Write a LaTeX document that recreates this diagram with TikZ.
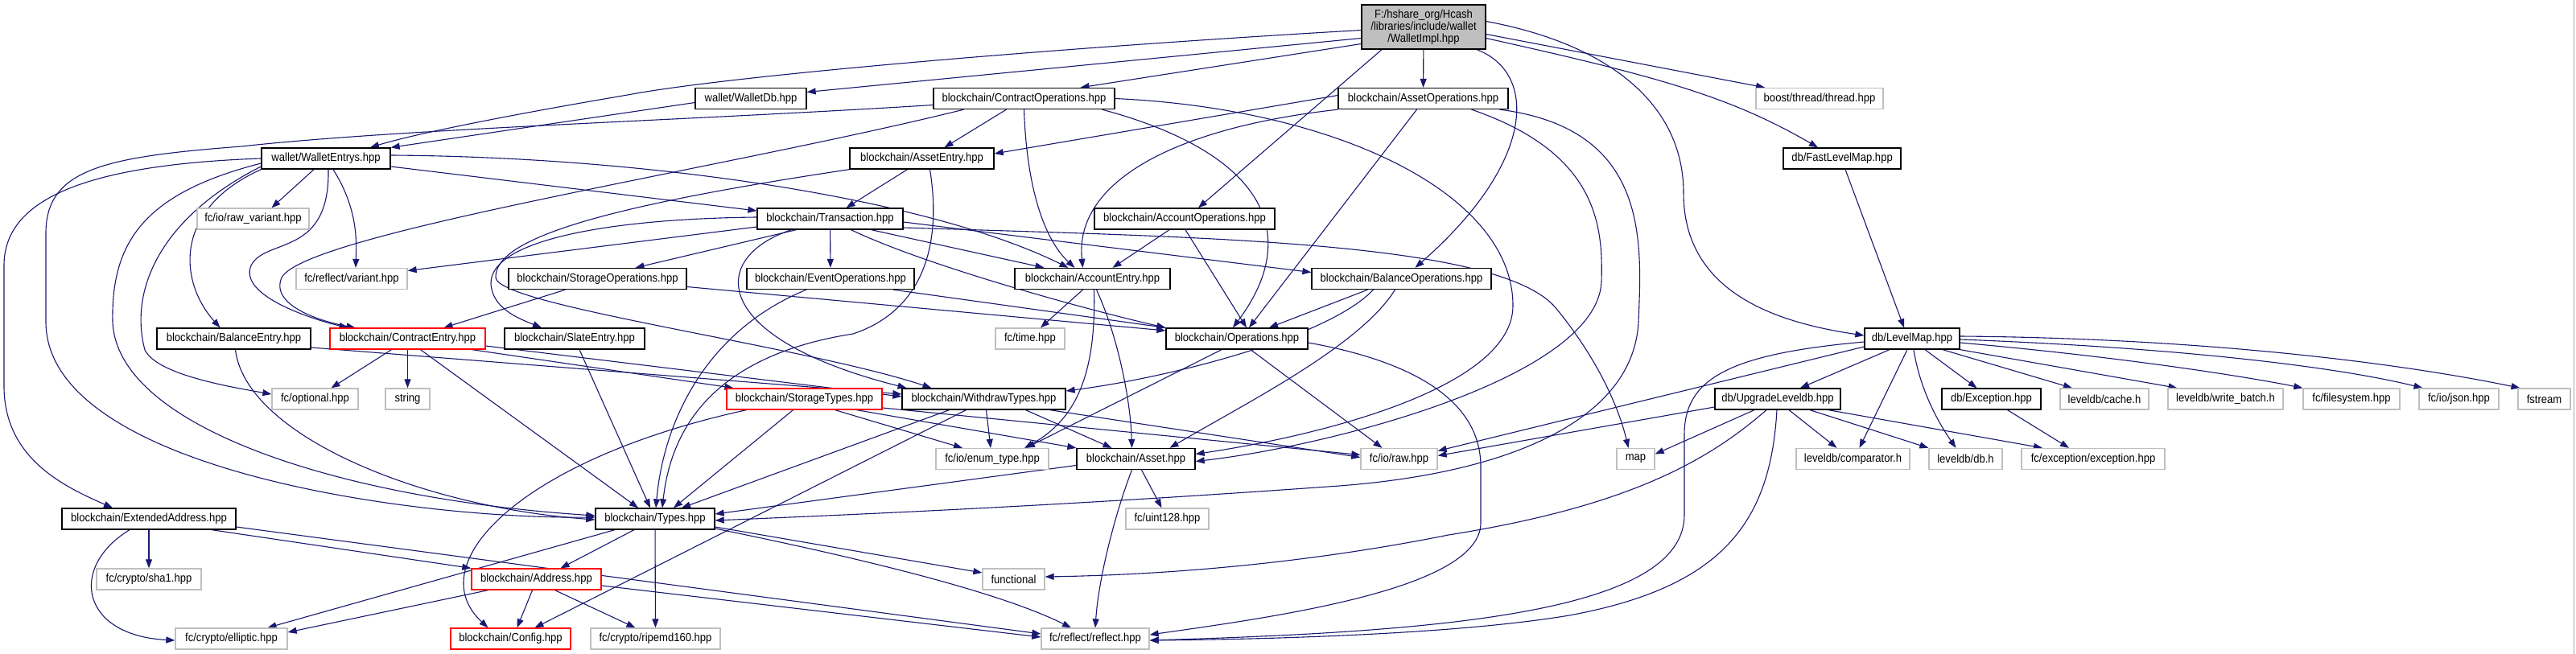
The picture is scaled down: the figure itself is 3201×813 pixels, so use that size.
\documentclass[tikz,border=0pt]{standalone}
\usepackage{fontspec}
\setmainfont{Liberation Sans}[FakeStretch=0.9]
\usetikzlibrary{arrows.meta}
\definecolor{edgec}{RGB}{25,25,112}
\definecolor{grayb}{RGB}{191,191,191}
\pgfdeclarelayer{bglayer}
\pgfdeclarelayer{edgelayer}
\pgfsetlayers{bglayer,edgelayer,main}
\tikzset{
  nb/.style={draw=black, line width=1.3pt, fill=white, minimum height=26pt, inner sep=0pt, align=center},
  gb/.style={nb, draw=grayb},
  rb/.style={nb, draw=red},
  ed/.style={draw=edgec, line width=1.1pt, -{Triangle[length=11pt,width=8pt]}}
}
\begin{document}
\begin{tikzpicture}[x=1pt,y=-1pt,font=\fontsize{14.5pt}{15pt}\selectfont]
\useasboundingbox (0,0) rectangle (3201,813);
\begin{pgfonlayer}{bglayer}
\fill[white] (0,0) rectangle (3201,813);
\draw[gray!70, line width=1pt] (3198.5,0) -- (3198.5,813);
\end{pgfonlayer}
% row 0
\node[nb, fill=grayb, minimum width=154pt, minimum height=55pt] (WI) at (1769,33.5) {F:/hshare\_org/Hcash\\/libraries/include/wallet\\/WalletImpl.hpp};
% row 1
\node[nb, minimum width=138pt] (WDb) at (933,122.5) {wallet/WalletDb.hpp};
\node[nb, minimum width=225pt] (COps) at (1272.5,122.5) {blockchain/ContractOperations.hpp};
\node[nb, minimum width=211pt] (AOps) at (1768.5,122.5) {blockchain/AssetOperations.hpp};
\node[gb, minimum width=158pt] (boost) at (2261,122.5) {boost/thread/thread.hpp};
% row 2
\node[nb, minimum width=160pt] (WE) at (405,197) {wallet/WalletEntrys.hpp};
\node[nb, minimum width=179pt] (AE) at (1145.5,197) {blockchain/AssetEntry.hpp};
\node[nb, minimum width=146pt] (FLM) at (2289,197) {db/FastLevelMap.hpp};
% row 3
\node[gb, minimum width=139pt] (rawvar) at (314.5,272) {fc/io/raw\_variant.hpp};
\node[nb, minimum width=181pt] (TX) at (1031.5,272) {blockchain/Transaction.hpp};
\node[nb, minimum width=224pt] (AccOps) at (1472,272) {blockchain/AccountOperations.hpp};
% row 4
\node[gb, minimum width=138pt] (rvar) at (437,346.5) {fc/reflect/variant.hpp};
\node[nb, minimum width=221pt] (SOps) at (742.5,346.5) {blockchain/StorageOperations.hpp};
\node[nb, minimum width=208pt] (EOps) at (1032,346.5) {blockchain/EventOperations.hpp};
\node[nb, minimum width=193pt] (AccE) at (1357.5,346.5) {blockchain/AccountEntry.hpp};
\node[nb, minimum width=223pt] (BOps) at (1741.5,346.5) {blockchain/BalanceOperations.hpp};
% row 5
\node[nb, minimum width=191pt] (BE) at (290.5,421) {blockchain/BalanceEntry.hpp};
\node[rb, minimum width=193pt] (CE) at (506.5,421) {blockchain/ContractEntry.hpp};
\node[nb, minimum width=174pt] (SE) at (714,421) {blockchain/SlateEntry.hpp};
\node[gb, minimum width=86pt] (time) at (1280,421) {fc/time.hpp};
\node[nb, minimum width=176pt] (Ops) at (1537,421) {blockchain/Operations.hpp};
\node[nb, minimum width=118pt] (LM) at (2376,421) {db/LevelMap.hpp};
% row 6
\node[gb, minimum width=107pt] (opt) at (391.5,496) {fc/optional.hpp};
\node[gb, minimum width=55pt] (string) at (506.5,496) {string};
\node[rb, minimum width=193pt] (ST) at (999.5,496) {blockchain/StorageTypes.hpp};
\node[nb, minimum width=203pt] (WT) at (1222.5,496) {blockchain/WithdrawTypes.hpp};
\node[nb, minimum width=156pt] (ULDB) at (2209,496) {db/UpgradeLeveldb.hpp};
\node[nb, minimum width=123pt] (Exc) at (2474.5,496) {db/Exception.hpp};
\node[gb, minimum width=110pt] (cache) at (2615,496) {leveldb/cache.h};
\node[gb, minimum width=143pt] (wb) at (2765.5,496) {leveldb/write\_batch.h};
\node[gb, minimum width=120pt] (fs) at (2922,496) {fc/filesystem.hpp};
\node[gb, minimum width=99pt] (json) at (3055.5,496) {fc/io/json.hpp};
\node[gb, minimum width=65pt] (fstream) at (3161.5,496) {fstream};
% row 7
\node[gb, minimum width=140pt] (enum) at (1233,570.5) {fc/io/enum\_type.hpp};
\node[nb, minimum width=147pt] (Asset) at (1411.5,570.5) {blockchain/Asset.hpp};
\node[gb, minimum width=95pt] (raw) at (1738.5,570.5) {fc/io/raw.hpp};
\node[gb, minimum width=47pt] (map) at (2032.5,570.5) {map};
\node[gb, minimum width=141pt] (comp) at (2302.5,570.5) {leveldb/comparator.h};
\node[gb, minimum width=91pt] (dbh) at (2442.5,570.5) {leveldb/db.h};
\node[gb, minimum width=178pt] (exch) at (2601,570.5) {fc/exception/exception.hpp};
% row 8
\node[nb, minimum width=216pt] (EA) at (185,645) {blockchain/ExtendedAddress.hpp};
\node[nb, minimum width=148pt] (Types) at (814,645) {blockchain/Types.hpp};
\node[gb, minimum width=103pt] (uint128) at (1450.5,645) {fc/uint128.hpp};
% row 9
\node[gb, minimum width=130pt] (sha1) at (185,720) {fc/crypto/sha1.hpp};
\node[rb, minimum width=161pt] (Addr) at (666.5,720) {blockchain/Address.hpp};
\node[gb, minimum width=77pt] (func) at (1259.5,720) {functional};
% row 10
\node[gb, minimum width=139pt] (ell) at (287.5,794) {fc/crypto/elliptic.hpp};
\node[rb, minimum width=149pt] (Config) at (634.5,794) {blockchain/Config.hpp};
\node[gb, minimum width=161pt] (ripemd) at (814.5,794) {fc/crypto/ripemd160.hpp};
\node[gb, minimum width=134pt] (reflect) at (1361,794) {fc/reflect/reflect.hpp};

\begin{pgfonlayer}{edgelayer}
% WalletImpl
\draw[ed] ([yshift=-4pt]WI.west) .. controls (1300,60) and (900,95) .. (780,118) .. controls (650,140) and (520,165) .. ([xshift=55pt]WE.north);
\draw[ed] ([yshift=-14pt]WI.west) -- ([yshift=8pt]WDb.east);
\draw[ed] ([yshift=-21pt]WI.west) -- ([xshift=70pt]COps.north);
\draw[ed] (WI) -- (AOps);
\draw[ed] ([xshift=-52pt]WI.south) -- ([xshift=17pt]AccOps.north);
\draw[ed] ([xshift=66pt]WI.south) .. controls (1910,90) and (1910,200) .. ([xshift=17pt]BOps.north);
\draw[ed] ([yshift=-9pt]WI.east) -- ([xshift=-68pt]boost.north);
\draw[ed] ([yshift=-14pt]WI.east) .. controls (2060,95) and (2150,120) .. ([xshift=-30pt]FLM.north);
\draw[ed] ([yshift=7pt]WI.east) .. controls (2000,55) and (2092,130) .. (2092,240) .. controls (2092,360) and (2200,400) .. ([yshift=4pt]LM.west);
% WalletDb
\draw[ed] ([yshift=-5pt]WDb.west) -- (WE.north east);
% ContractOperations
\draw[ed] ([yshift=-8pt]COps.west) .. controls (850,150) and (500,160) .. (300,182) .. controls (130,195) and (57,210) .. (57,290) -- (57,400) .. controls (57,580) and (500,645) .. ([yshift=2pt]Types.west);
\draw[ed] ([xshift=-75pt]COps.south) .. controls (900,210) and (380,290) .. (350,345) .. controls (335,380) and (400,400) .. ([xshift=-65pt]CE.north);
\draw[ed] ([xshift=-22pt]COps.south) -- ([xshift=28pt]AE.north);
\draw[ed] (COps.south) .. controls (1276,240) and (1300,300) .. ([xshift=-22pt]AccE.north);
\draw[ed] ([xshift=97pt]COps.south) .. controls (1570,190) and (1620,290) .. ([xshift=-5pt]Ops.north);
\draw[ed] (COps.east) .. controls (1660,135) and (1880,240) .. (1880,380) .. controls (1880,480) and (1650,540) .. ([yshift=6pt]Asset.east);
% AssetOperations
\draw[ed] ([yshift=4pt]AOps.west) -- ([yshift=6pt]AE.east);
\draw[ed] (AOps.south west) .. controls (1450,160) and (1335,230) .. ([xshift=-12pt]AccE.north);
\draw[ed] ([xshift=-8pt]AOps.south) -- ([xshift=15pt]Ops.north);
\draw[ed] ([xshift=60pt]AOps.south) .. controls (1985,190) and (1992,280) .. (1990,350) .. controls (1985,470) and (1650,555) .. ([yshift=-3pt]Asset.east);
\draw[ed] ([xshift=95pt]AOps.south) .. controls (2050,160) and (2040,300) .. (2036,400) .. controls (2030,520) and (1880,590) .. (1650,605) .. controls (1300,630) and (1050,640) .. ([yshift=-2pt]Types.east);
% AccountOperations
\draw[ed] ([xshift=-19pt]AccOps.south) -- ([xshift=25pt]AccE.north);
\draw[ed] ([xshift=1pt]AccOps.south) -- ([xshift=12pt]Ops.north);
% BalanceOperations
\draw[ed] ([xshift=-42pt]BOps.south) -- ([xshift=40pt]Ops.north);
\draw[ed] ([xshift=-35pt]BOps.south) .. controls (1650,420) and (1450,470) .. ([yshift=10pt]WT.east);
\draw[ed] ([xshift=-8pt]BOps.south) .. controls (1690,430) and (1550,500) .. ([xshift=42pt]Asset.north);
% Transaction
\draw[ed] ([yshift=-4pt]TX.east) -- ([yshift=8pt]BOps.west);
\draw[ed] ([yshift=-11pt]TX.east) .. controls (1500,295) and (1870,300) .. (1935,385) .. controls (1980,440) and (2010,500) .. ([xshift=-9pt]map.north);
\draw[ed] ([yshift=2pt]TX.west) .. controls (750,272) and (610,300) .. (610,352) .. controls (611,385) and (650,398) .. ([xshift=-41pt]SE.north);
\draw[ed] ([yshift=-10pt]TX.west) -- ([yshift=10pt]rvar.east);
\draw[ed] ([xshift=-42pt]TX.south) -- ([xshift=47pt]SOps.north);
\draw[ed] (TX) -- (EOps);
\draw[ed] ([xshift=51pt]TX.south) -- ([xshift=-60pt]AccE.north);
\draw[ed] ([xshift=26pt]TX.south) .. controls (1150,330) and (1350,385) .. (Ops.north west);
\draw[ed] ([xshift=-48pt]TX.south) .. controls (880,320) and (880,420) .. ([xshift=-96pt]WT.north);
% AssetEntry
\draw[ed] ([xshift=-18pt]AE.south) -- ([xshift=20pt]TX.north);
\draw[ed] ([xshift=10pt]AE.south) .. controls (1170,300) and (1150,385) .. (1060,415) .. controls (900,440) and (835,520) .. ([xshift=9pt]Types.north);
\draw[ed] (AE.south west) .. controls (760,255) and (614,295) .. (616,345) .. controls (618,380) and (1000,430) .. ([xshift=-65pt]WT.north);
% WalletEntrys
\draw[ed] (WE.west) .. controls (100,205) and (5,250) .. (5,330) -- (5,480) .. controls (5,570) and (80,605) .. ([xshift=-45pt]EA.north);
\draw[ed] ([yshift=-6pt]WE.west) .. controls (180,240) and (138,300) .. (140,400) .. controls (145,530) and (420,620) .. ([yshift=4pt]Types.west);
\draw[ed] ([yshift=-10pt]WE.west) .. controls (200,270) and (160,360) .. (180,435) .. controls (195,465) and (280,480) .. ([yshift=6pt]opt.west);
\draw[ed] (WE.south west) .. controls (215,260) and (222,350) .. ([xshift=-17pt]BE.north);
\draw[ed] ([xshift=-15pt]WE.south) -- ([xshift=23pt]rawvar.north);
\draw[ed] ([xshift=3pt]WE.south) .. controls (410,320) and (330,295) .. (312,330) .. controls (295,370) and (400,400) .. ([xshift=-74pt]CE.north);
\draw[ed] ([xshift=9pt]WE.south) .. controls (445,260) and (443,300) .. ([xshift=5pt]rvar.north);
\draw[ed] ([yshift=-10pt]WE.east) -- ([yshift=10pt]TX.west);
\draw[ed] ([yshift=4pt]WE.east) .. controls (800,195) and (1150,245) .. ([xshift=-30pt]AccE.north);
% BalanceEntry
\draw[ed] ([xshift=2pt]BE.south) .. controls (305,540) and (520,630) .. ([yshift=-1pt]Types.west);
\draw[ed] ([yshift=-11pt]BE.east) -- ([yshift=6pt]WT.west);
% ContractEntry
\draw[ed] ([xshift=-20pt]CE.south) -- ([xshift=20pt]opt.north);
\draw[ed] (CE) -- (string);
\draw[ed] ([xshift=16pt]CE.south) -- ([xshift=-21pt]Types.north);
\draw[ed] ([xshift=80pt]CE.south) -- ([xshift=-88pt]ST.north);
\draw[ed] ([yshift=-9pt]CE.east) -- ([yshift=3pt]WT.west);
% SlateEntry
\draw[ed] ([xshift=6pt]SE.south) -- ([xshift=-6pt]Types.north);
% StorageOperations
\draw[ed] ([xshift=-40pt]SOps.south) -- ([xshift=45pt]CE.north);
\draw[ed] ([yshift=-10pt]SOps.east) -- ([yshift=10pt]Ops.west);
% EventOperations
\draw[ed] ([xshift=-30pt]EOps.south) .. controls (880,410) and (825,520) .. ([xshift=1pt]Types.north);
\draw[ed] ([xshift=78pt]EOps.south) -- (Ops.north west);
% AccountEntry
\draw[ed] ([xshift=-12pt]AccE.south) -- ([xshift=13pt]time.north);
\draw[ed] ([xshift=2pt]AccE.south) .. controls (1362,460) and (1340,520) .. ([xshift=40pt]enum.north);
\draw[ed] ([xshift=5pt]AccE.south) .. controls (1390,420) and (1405,500) .. ([xshift=-5pt]Asset.north);
% Operations
\draw[ed] ([xshift=-19pt]Ops.south) -- ([xshift=42pt]enum.north);
\draw[ed] ([xshift=17pt]Ops.south) -- ([xshift=-21pt]raw.north);
\draw[ed] ([yshift=-5pt]Ops.east) .. controls (1760,450) and (1840,500) .. (1840,580) -- (1840,650) .. controls (1840,730) and (1600,765) .. ([yshift=5pt]reflect.east);
% StorageTypes
\draw[ed] ([xshift=-14pt]ST.south) -- ([xshift=23pt]Types.north);
\draw[ed] ([xshift=-72pt]ST.south) .. controls (650,570) and (520,700) .. ([xshift=-28pt]Config.north);
\draw[ed] ([xshift=38pt]ST.south) -- ([xshift=-37pt]enum.north);
\draw[ed] ([xshift=65pt]ST.south) -- (Asset.north west);
\draw[ed] ([yshift=-11pt]ST.east) -- ([yshift=5pt]raw.west);
% WithdrawTypes
\draw[ed] ([xshift=-43pt]WT.south) -- ([xshift=33pt]Types.north);
\draw[ed] ([xshift=-22pt]WT.south) -- ([xshift=30pt]Config.north);
\draw[ed] ([xshift=3pt]WT.south) -- ([xshift=-2pt]enum.north);
\draw[ed] ([xshift=52pt]WT.south) -- ([xshift=-30pt]Asset.north);
\draw[ed] ([xshift=82pt]WT.south) -- ([yshift=2pt]raw.west);
% Asset
\draw[ed] ([yshift=-8pt]Asset.west) -- ([yshift=6pt]Types.east);
\draw[ed] ([xshift=7pt]Asset.south) -- ([xshift=-7pt]uint128.north);
\draw[ed] ([xshift=-5pt]Asset.south) .. controls (1385,640) and (1365,720) .. (reflect.north);
% Types
\draw[ed] ([xshift=-50pt]Types.south) -- ([xshift=45pt]ell.north);
\draw[ed] ([xshift=-26pt]Types.south) -- ([xshift=30pt]Addr.north);
\draw[ed] (Types) -- (ripemd);
\draw[ed] ([yshift=-10pt]Types.east) -- ([yshift=8pt]func.west);
\draw[ed] ([yshift=-12pt]Types.east) .. controls (1100,700) and (1250,740) .. ([xshift=-30pt]reflect.north);
% ExtendedAddress
\draw[ed] (EA) -- (sha1);
\draw[ed] ([xshift=-24pt]EA.south) .. controls (85,705) and (100,790) .. ([yshift=-2pt]ell.west);
\draw[ed] ([xshift=78pt]EA.south) -- (Addr.north west);
\draw[ed] ([yshift=-10pt]EA.east) -- ([yshift=6pt]reflect.west);
% Address
\draw[ed] ([xshift=-60pt]Addr.south) -- ([yshift=8pt]ell.east);
\draw[ed] ([xshift=-5pt]Addr.south) -- ([xshift=8pt]Config.north);
\draw[ed] ([xshift=23pt]Addr.south) -- ([xshift=-25pt]ripemd.north);
\draw[ed] ([yshift=-8pt]Addr.east) -- ([yshift=2pt]reflect.west);
% LevelMap
\draw[ed] ([xshift=-28pt]LM.south) -- ([xshift=28pt]ULDB.north);
\draw[ed] ([xshift=-6pt]LM.south) -- ([xshift=8pt]comp.north);
\draw[ed] ([xshift=2pt]LM.south) .. controls (2385,480) and (2405,520) .. ([xshift=-12pt]dbh.north);
\draw[ed] ([xshift=16pt]LM.south) -- ([xshift=-18pt]Exc.north);
\draw[ed] ([xshift=38pt]LM.south) -- ([xshift=-40pt]cache.north);
\draw[ed] (LM.south east) -- ([xshift=-60pt]wb.north);
\draw[ed] ([yshift=-5pt]LM.east) .. controls (2650,445) and (2800,470) .. (fs.north west);
\draw[ed] ([yshift=-1pt]LM.east) .. controls (2700,432) and (2900,455) .. ([xshift=-45pt]json.north);
\draw[ed] ([yshift=3pt]LM.east) .. controls (2700,420) and (2950,445) .. ([xshift=-30pt]fstream.north);
\draw[ed] ([yshift=-10pt]LM.west) -- ([yshift=10pt]raw.east);
\draw[ed] ([yshift=-4pt]LM.west) .. controls (2150,440) and (2093,470) .. (2093,540) -- (2093,640) .. controls (2093,760) and (1800,785) .. ([yshift=-2pt]reflect.east);
% UpgradeLeveldb
\draw[ed] ([xshift=-29pt]ULDB.south) -- ([yshift=6pt]map.east);
\draw[ed] ([xshift=14pt]ULDB.south) -- ([xshift=-20pt]comp.north);
\draw[ed] ([xshift=40pt]ULDB.south) -- (dbh.north west);
\draw[ed] ([xshift=63pt]ULDB.south) -- ([xshift=-63pt]exch.north);
\draw[ed] ([yshift=-10pt]ULDB.west) -- ([yshift=4pt]raw.east);
\draw[ed] ([xshift=-14pt]ULDB.south) .. controls (2120,575) and (2020,630) .. (1800,665) .. controls (1600,705) and (1420,715) .. ([yshift=3pt]func.east);
\draw[ed] ([xshift=-1pt]ULDB.south) .. controls (2200,650) and (2140,730) .. (1950,765) .. controls (1800,790) and (1550,795) .. ([yshift=-2pt]reflect.east);
% Exception, FastLevelMap
\draw[ed] ([xshift=20pt]Exc.south) -- ([xshift=-30pt]exch.north);
\draw[ed] ([xshift=4pt]FLM.south) -- ([xshift=-10pt]LM.north);
\end{pgfonlayer}
\end{tikzpicture}
\end{document}
